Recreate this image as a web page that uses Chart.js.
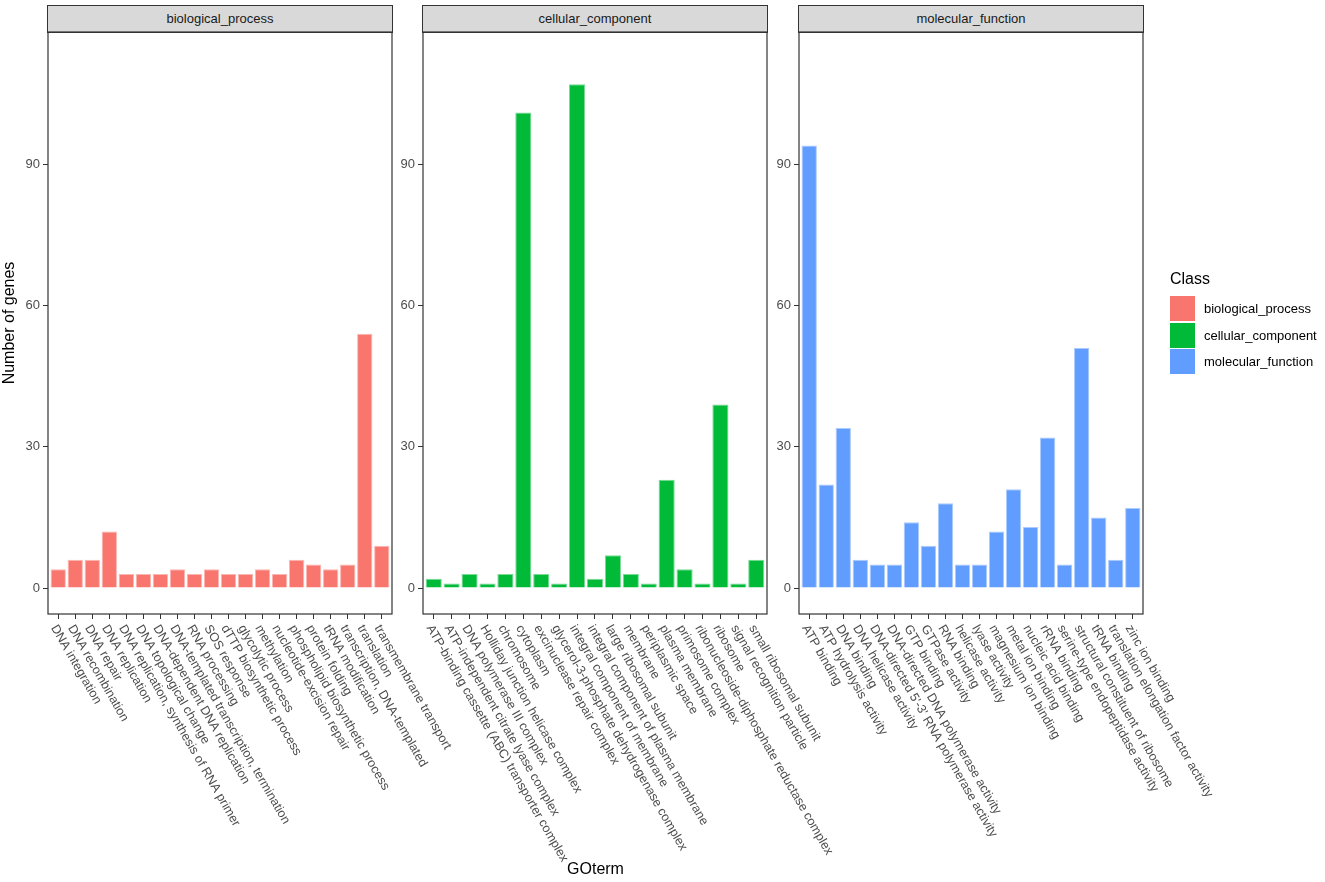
<!DOCTYPE html>
<html>
<head>
<meta charset="utf-8">
<script src="https://cdn.jsdelivr.net/npm/chart.js@4.4.1/dist/chart.umd.min.js"></script>
<style>
  html, body { margin: 0; padding: 0; background: #fff; }
  body { width: 1325px; height: 882px; overflow: hidden; position: relative;
         font-family: "Liberation Sans", Arial, Helvetica, sans-serif; }
  canvas { position: absolute; top: 0; }
  .strip { position: absolute; top: 5px; height: 28px; box-sizing: border-box;
           background: #D9D9D9; border: 1.2px solid #333; color: #1A1A1A;
           font-size: 13px; line-height: 26px; text-align: center; }
  .xtitle { position: absolute; top: 860px; left: 0; width: 1191px; text-align: center;
            font-size: 16px; color: #000; }
  .legend { position: absolute; left: 1170px; top: 270px; }
  .legend .ttl { font-size: 16px; color: #000; height: 26px; line-height: 18px; }
  .legend .row { height: 26.6px; position: relative; }
  .legend .key { position: absolute; left: 0; top: 0; width: 25px; height: 25px; box-sizing: border-box; }
  .legend .lab { position: absolute; left: 34px; top: 0; line-height: 25px; font-size: 13px; color: #000; white-space: nowrap; }
</style>
</head>
<body>
<script>
// ---------------- DATA ----------------
const classNames = ["biological_process", "cellular_component", "molecular_function"];
const classColors = ["#F8766D", "#00BA38", "#619CFF"];

const bpTerms = [
  "DNA integration", "DNA recombination", "DNA repair", "DNA replication",
  "DNA replication, synthesis of RNA primer", "DNA topological change",
  "DNA-dependent DNA replication", "DNA-templated transcription, termination",
  "RNA processing", "SOS response", "dTTP biosynthetic process", "glycolytic process",
  "methylation", "nucleotide-excision repair", "phospholipid biosynthetic process",
  "protein folding", "tRNA modification", "transcription, DNA-templated",
  "translation", "transmembrane transport"
];
const bpCounts = [4, 6, 6, 12, 3, 3, 3, 4, 3, 4, 3, 3, 4, 3, 6, 5, 4, 5, 54, 9];

const ccTerms = [
  "ATP-binding cassette (ABC) transporter complex", "ATP-independent citrate lyase complex",
  "DNA polymerase III complex", "Holliday junction helicase complex", "chromosome",
  "cytoplasm", "excinuclease repair complex", "glycerol-3-phosphate dehydrogenase complex",
  "integral component of membrane", "integral component of plasma membrane",
  "large ribosomal subunit", "membrane", "periplasmic space", "plasma membrane",
  "primosome complex", "ribonucleoside-diphosphate reductase complex", "ribosome",
  "signal recognition particle", "small ribosomal subunit"
];
const ccCounts = [2, 1, 3, 1, 3, 101, 3, 1, 107, 2, 7, 3, 1, 23, 4, 1, 39, 1, 6];

const mfTerms = [
  "ATP binding", "ATP hydrolysis activity", "DNA binding", "DNA helicase activity",
  "DNA-directed 5'-3' RNA polymerase activity", "DNA-directed DNA polymerase activity",
  "GTP binding", "GTPase activity", "RNA binding", "helicase activity", "lyase activity",
  "magnesium ion binding", "metal ion binding", "nucleic acid binding", "rRNA binding",
  "serine-type endopeptidase activity", "structural constituent of ribosome",
  "tRNA binding", "translation elongation factor activity", "zinc ion binding"
];
const mfCounts = [94, 22, 34, 6, 5, 5, 14, 9, 18, 5, 5, 12, 21, 13, 32, 5, 51, 15, 6, 17];

const yTicks = [0, 30, 60, 90];
const yTitle = "Number of genes";
const xTitle = "GOterm";
const legendTitle = "Class";

// ---------------- LAYOUT ----------------
const W = 1325, H = 882;
const panelLefts = [48, 423, 799];
const panelW = 344;
const plotTop = 32, plotBottom = 614;
const yAxisW = 48;
const extraRight = 230;
const yMin = -5.5, yMax = 118.1;
const fontFamily = '"Liberation Sans", Arial, Helvetica, sans-serif';

const panels = [
  { name: classNames[0], terms: bpTerms, counts: bpCounts, color: classColors[0] },
  { name: classNames[1], terms: ccTerms, counts: ccCounts, color: classColors[1] },
  { name: classNames[2], terms: mfTerms, counts: mfCounts, color: classColors[2] }
];

const panelBorder = {
  id: 'panelBorder',
  afterDraw(chart) {
    const { ctx, chartArea: a } = chart;
    ctx.save();
    ctx.strokeStyle = '#333333';
    ctx.lineWidth = 1.2;
    ctx.strokeRect(a.left, a.top, a.right - a.left, a.bottom - a.top);
    ctx.restore();
  }
};

// rotate x labels clockwise (ggplot angle = -60, hjust = 0)
const rotatedLabels = {
  id: 'rotatedLabels',
  beforeDraw(chart) {
    const s = chart.scales.x;
    const items = s.getLabelItems(chart.chartArea);
    items.forEach((it, i) => {
      const px = s.getPixelForValue(s.ticks[i].value);
      it.textOffset = 0;
      it.options.rotation = Math.PI / 3;
      it.options.textAlign = 'left';
      it.options.textBaseline = 'middle';
      it.options.translation = [px - 4.5, s.top + 12];
    });
  }
};

panels.forEach((p, k) => {
  const strip = document.createElement('div');
  strip.className = 'strip';
  strip.style.left = (panelLefts[k] - 0.6) + 'px';
  strip.style.width = (panelW + 1.2) + 'px';
  strip.textContent = p.name;
  document.body.appendChild(strip);

  const cv = document.createElement('canvas');
  const cw = yAxisW + panelW + extraRight;
  cv.width = cw; cv.height = H;
  cv.style.width = cw + 'px'; cv.style.height = H + 'px';
  cv.style.left = (panelLefts[k] - yAxisW) + 'px';
  document.body.appendChild(cv);

  const n = p.terms.length;
  new Chart(cv, {
    type: 'bar',
    data: {
      datasets: [{
        data: p.terms.map((t, i) => ({ x: i, y: p.counts[i] })),
        backgroundColor: p.color,
        borderColor: p.color + '88',
        borderWidth: 1,
        barPercentage: 0.9,
        categoryPercentage: 1.0
      }]
    },
    options: {
      responsive: false,
      animation: false,
      events: [],
      layout: { padding: { top: plotTop, right: extraRight, left: 0, bottom: 0 } },
      plugins: { legend: { display: false }, tooltip: { enabled: false } },
      scales: {
        x: {
          type: 'linear',
          min: -0.6,
          max: n - 0.4,
          offset: false,
          grid: { offset: false, drawOnChartArea: false, drawTicks: true, tickLength: 5, color: '#333333', lineWidth: 1 },
          border: { display: false },
          ticks: {
            autoSkip: false, minRotation: 0, maxRotation: 0,
            color: '#4D4D4D', font: { family: fontFamily, size: 12.6 },
            callback: (v) => p.terms[v]
          },
          afterBuildTicks: (s) => { s.ticks = p.terms.map((_, i) => ({ value: i })); },
          afterFit: (s) => { s.height = H - plotBottom; s.paddingLeft = 0; s.paddingRight = 0; }
        },
        y: {
          min: yMin, max: yMax,
          grid: { drawOnChartArea: false, drawTicks: true, tickLength: 5, color: '#333333', lineWidth: 1 },
          border: { display: false },
          ticks: { color: '#4D4D4D', font: { family: fontFamily, size: 13 }, padding: 3 },
          afterBuildTicks: (s) => { s.ticks = yTicks.map(v => ({ value: v })); },
          afterFit: (s) => { s.width = yAxisW; s.paddingTop = 0; s.paddingBottom = 0; },
          title: {
            display: k === 0, text: yTitle, color: '#000',
            font: { family: fontFamily, size: 16 }, padding: { top: 0, bottom: 0 }
          }
        }
      }
    },
    plugins: [panelBorder, rotatedLabels]
  });
});

// x title
const xt = document.createElement('div');
xt.className = 'xtitle';
xt.textContent = xTitle;
document.body.appendChild(xt);

// legend
const lg = document.createElement('div');
lg.className = 'legend';
const lt = document.createElement('div');
lt.className = 'ttl';
lt.textContent = legendTitle;
lg.appendChild(lt);
classNames.forEach((c, i) => {
  const row = document.createElement('div');
  row.className = 'row';
  const key = document.createElement('div');
  key.className = 'key';
  key.style.background = classColors[i];
  key.style.border = '1px solid ' + classColors[i] + '88';
  const lab = document.createElement('div');
  lab.className = 'lab';
  lab.textContent = c;
  row.appendChild(key); row.appendChild(lab);
  lg.appendChild(row);
});
document.body.appendChild(lg);
</script>
</body>
</html>
